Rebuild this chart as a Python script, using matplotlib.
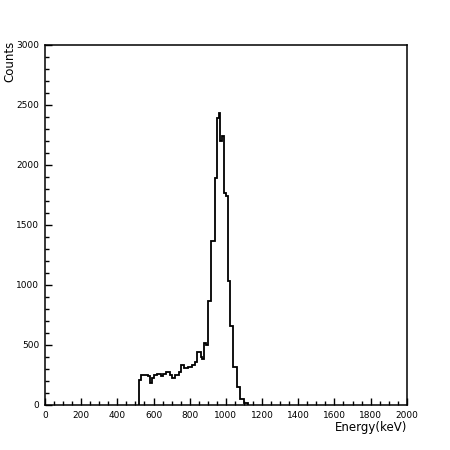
import numpy as np
import matplotlib
matplotlib.use("Agg")
import matplotlib.pyplot as plt
from matplotlib.ticker import MultipleLocator

# Histogram data (10 keV bins, lower edges in keV)
bin_start = 520
bin_width = 10
counts = [
    208, 250, 250, 250, 250, 245, 180, 225, 250, 250,   # 520-610
    262, 262, 238, 262, 262, 275, 275, 250, 225, 225,   # 620-710
    250, 250, 275, 333, 333, 310, 305, 320, 320, 333,   # 720-810
    333, 361, 444, 444, 400, 380, 514, 500, 870, 870,   # 820-910
    1366, 1366, 1895, 2391, 2433, 2200, 2239, 1770, 1740, 1033,  # 920-1010
    659, 659, 316, 316, 150, 150, 50, 50, 15, 15,      # 1020-1110
]
edges = bin_start + bin_width * np.arange(len(counts) + 1)

x_label = "Energy(keV)"
y_label = "Counts"

fig = plt.figure(figsize=(4.5, 4.5), dpi=100)
ax = fig.add_axes([0.1, 0.1, 0.804, 0.8])

ax.stairs(counts, edges, baseline=0, color="black", linewidth=1.3)

ax.set_xlim(0, 2000)
ax.set_ylim(0, 3000)
ax.xaxis.set_major_locator(MultipleLocator(200))
ax.xaxis.set_minor_locator(MultipleLocator(50))
ax.yaxis.set_major_locator(MultipleLocator(500))
ax.yaxis.set_minor_locator(MultipleLocator(100))
ax.tick_params(which="both", direction="in", top=False, right=False,
               labelsize=6.5, width=1, pad=4)
ax.tick_params(which="major", length=5)
ax.tick_params(which="minor", length=3)
for s in ax.spines.values():
    s.set_linewidth(1.1)

ax.text(1.0, -0.045, x_label, transform=ax.transAxes, ha="right", va="top",
        fontsize=8.5)
fig.text(0.022, 0.91, y_label, rotation=90, ha="center", va="top", fontsize=8.5)

fig.savefig("out.png", dpi=100)
